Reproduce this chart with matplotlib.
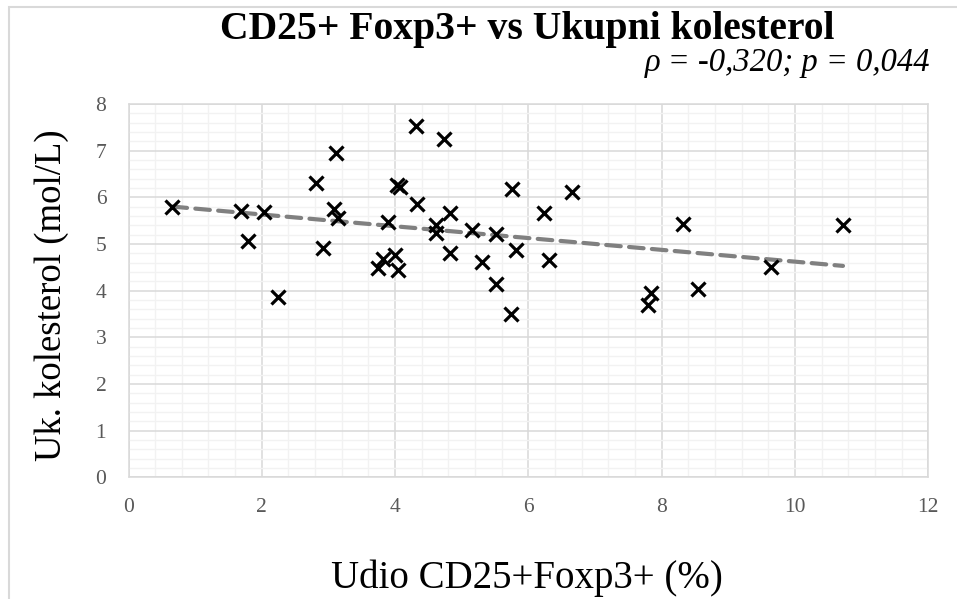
import matplotlib
matplotlib.use("Agg")
import matplotlib.pyplot as plt
from matplotlib.patches import Rectangle
from matplotlib.ticker import MultipleLocator
import numpy as np

# ── data ─────────────────────────────────────────────────────────────
cd25_pct = [0.66, 1.69, 1.79, 2.03, 2.25, 2.81, 2.92, 3.11, 3.09, 3.14,
            3.90, 4.03, 4.07, 4.31, 4.33, 3.75, 3.82, 4.00, 4.05, 4.74,
            4.62, 4.61, 4.82, 4.83, 5.15, 5.30, 5.51, 5.51, 5.76, 5.74,
            5.82, 6.24, 6.31, 6.66, 7.80, 7.84, 8.32, 8.55, 9.64, 10.72]
cholesterol = [5.79, 5.71, 5.06, 5.69, 3.86, 6.30, 4.92, 6.94, 5.74, 5.55,
               5.48, 6.26, 6.22, 7.53, 5.85, 4.49, 4.67, 4.77, 4.44, 7.24,
               5.41, 5.23, 5.66, 4.81, 5.30, 4.62, 5.21, 4.14, 6.17, 3.49,
               4.87, 5.66, 4.66, 6.11, 3.69, 3.94, 5.42, 4.03, 4.51, 5.41]

title = "CD25+ Foxp3+ vs Ukupni kolesterol"
stats_text = "\u03c1 = -0,320; p = 0,044"
x_label = "Udio CD25+Foxp3+ (%)"
y_label = "Uk. kolesterol (mol/L)"

SERIF = ["Liberation Serif", "DejaVu Serif"]
TICK_CLR = "#595959"

fig = plt.figure(figsize=(9.57, 5.99), dpi=100)
fig.patch.set_facecolor("white")

# outer chart border (only top/left visible in the reference)
fig.add_artist(Rectangle((9 / 957, -0.05), 1.2, 1 - 7 / 599 + 0.05,
                         transform=fig.transFigure, fill=False,
                         edgecolor="#D9D9D9", lw=1.5))

ax = fig.add_axes([128.5 / 957, 1 - 477.3 / 599,
                   (928.3 - 128.5) / 957, (477.3 - 104) / 599])
ax.set_xlim(0, 12)
ax.set_ylim(0, 8)
ax.xaxis.set_major_locator(MultipleLocator(2))
ax.xaxis.set_minor_locator(MultipleLocator(0.4))
ax.yaxis.set_major_locator(MultipleLocator(1))
ax.yaxis.set_minor_locator(MultipleLocator(0.2))
ax.grid(which="minor", color="#F2F2F2", lw=1.0, zorder=0)
ax.grid(which="major", color="#D9D9D9", lw=1.1, zorder=0.5)
ax.set_axisbelow(True)
for s in ax.spines.values():
    s.set_color("#D9D9D9")
    s.set_linewidth(1.1)
ax.tick_params(which="both", length=0, labelsize=15.5, labelcolor=TICK_CLR)
ax.tick_params(axis="x", pad=15)
ax.tick_params(axis="y", pad=16)
for lab in ax.get_xticklabels() + ax.get_yticklabels():
    lab.set_family(SERIF)

# linear trend
k, b = np.polyfit(cd25_pct, cholesterol, 1)
xs = np.array([min(cd25_pct), max(cd25_pct)])
ax.plot(xs, k * xs + b, color="#808080", lw=3.0, ls=(0, (3.5, 2)),
        dash_capstyle="round", zorder=2)

ax.plot(cd25_pct, cholesterol, ls="none", marker="x", ms=10, mew=2.3,
        color="black", zorder=3)

fig.text(527 / 957, 1 - 39 / 599, title, ha="center", va="baseline",
         fontsize=28.5, fontweight="bold", family=SERIF)
fig.text(930 / 957, 1 - 71 / 599, stats_text, ha="right", va="baseline",
         fontsize=23.5, fontstyle="italic", family=SERIF)
fig.text(527 / 957, 1 - 588 / 599, x_label, ha="center", va="baseline",
         fontsize=28, family=SERIF)
fig.text(52 / 957, 1 - 295 / 599, y_label, ha="center", va="center",
         rotation=90, fontsize=26.5, family=SERIF)

fig.savefig("out.png", dpi=100, facecolor="white")
